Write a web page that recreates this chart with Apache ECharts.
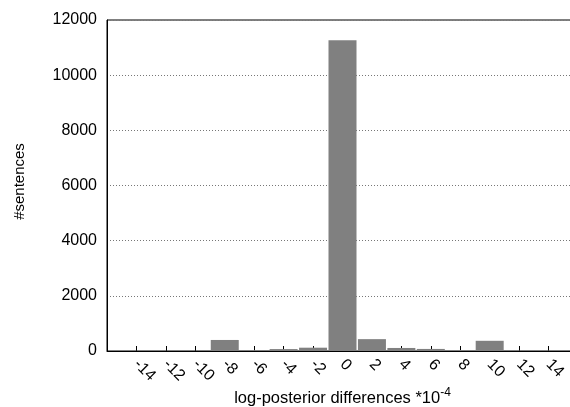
<!DOCTYPE html>
<html>
<head>
<meta charset="utf-8">
<script src="https://cdn.jsdelivr.net/npm/echarts@6/dist/echarts.min.js"></script>
<style>
html, body { margin: 0; padding: 0; background: #fff; }
#main { width: 570px; height: 407px; }
</style>
</head>
<body>
<div id="main"></div>
<script>
// bins of the log-posterior difference (*10^-4) and sentence counts
var bins = [-14, -12, -10, -8, -6, -4, -2, 0, 2, 4, 6, 8, 10, 12, 14];
var counts = [8, 8, 8, 400, 30, 70, 120, 11270, 430, 110, 75, 35, 370, 15, 15];
var yTicks = [0, 2000, 4000, 6000, 8000, 10000, 12000];

var chart = echarts.init(document.getElementById('main'));
var font = 'Liberation Sans';

var option = {
    animation: false,
    grid: {
        left: 107,
        right: -8,
        top: 20,
        bottom: 56,
        outerBoundsMode: 'none',
        containLabel: false,
        show: true,
        borderColor: '#000',
        borderWidth: 1
    },
    xAxis: {
        type: 'value',
        min: -16,
        max: 16,
        interval: 2,
        name: '{t|log-posterior differences *10}{s|-4}',
        nameLocation: 'middle',
        nameGap: 36,
        nameMoveOverlap: false,
        nameTextStyle: {
            rich: {
                t: { fontFamily: font, fontSize: 16.5, color: '#000' },
                s: { fontFamily: font, fontSize: 12, color: '#000', verticalAlign: 'top', padding: [0, 0, 10, 0] }
            }
        },
        axisLine: { onZero: false, lineStyle: { color: '#000', width: 1 } },
        axisTick: { inside: true, length: 5, lineStyle: { color: '#000' } },
        splitLine: { show: false },
        axisLabel: {
            rotate: -45,
            fontFamily: font,
            fontSize: 16,
            color: '#000',
            margin: 11,
            formatter: function (v) {
                return (v === -16 || v === 16) ? '' : String(v);
            }
        }
    },
    yAxis: {
        type: 'value',
        min: yTicks[0],
        max: yTicks[yTicks.length - 1],
        interval: 2000,
        name: '#sentences',
        nameLocation: 'middle',
        nameGap: 80,
        nameMoveOverlap: false,
        nameTextStyle: { fontFamily: font, fontSize: 15, color: '#000', padding: [0, 0, 0, 8] },
        axisLine: { show: true, onZero: false, lineStyle: { color: '#000', width: 1 } },
        axisTick: { show: false },
        axisLabel: {
            fontFamily: font, fontSize: 16, color: '#000', margin: 10,
            formatter: function (v) { return String(v); }
        },
        splitLine: { lineStyle: { color: '#777', type: [1, 2], width: 1 } }
    },
    series: [{
        type: 'bar',
        barWidth: 28,
        itemStyle: { color: '#808080' },
        data: bins.map(function (b, i) { return [b, counts[i]]; })
    }]
};

chart.setOption(option);
</script>
</body>
</html>
